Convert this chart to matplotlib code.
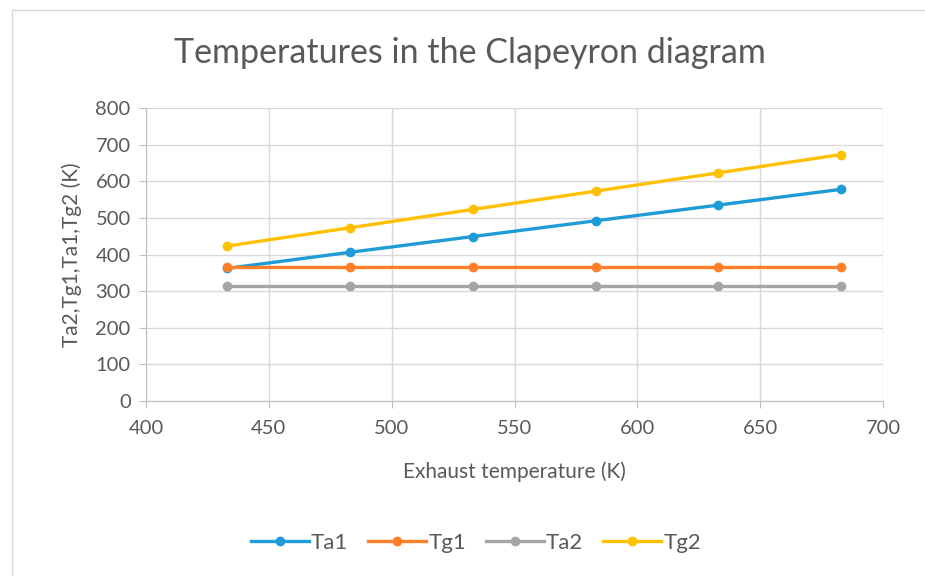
import matplotlib.pyplot as plt
from matplotlib.patches import Rectangle

# data
exhaust_temp = [433, 483, 533, 583, 633, 683]
ta1 = [362, 406, 449, 492, 535, 578]
tg1 = [365, 365, 365, 365, 365, 365]
ta2 = [313, 313, 313, 313, 313, 313]
tg2 = [423, 473, 523, 573, 623, 673]

plt.rcParams['font.family'] = ['Lato', 'DejaVu Sans']
txt = '#595959'

fig = plt.figure(figsize=(9.25, 5.76), dpi=100)
ax = fig.add_axes([146 / 925, 1 - 401 / 576, (883 - 146) / 925, (401 - 108) / 576])

# outer chart border (only top and left visible in the crop)
fig.patches.append(Rectangle((12 / 925, -0.1), 1.2, 1.1 - 10 / 576, transform=fig.transFigure,
                             fill=False, edgecolor='#D9D9D9', linewidth=1))

series = [("Ta1", ta1, '#1F9BD7'), ("Tg1", tg1, '#FF7F27'),
          ("Ta2", ta2, '#A5A5A5'), ("Tg2", tg2, '#FFC000')]
for name, vals, col in series:
    ax.plot(exhaust_temp, vals, color=col, linewidth=2.4, marker='o', markersize=6, label=name)

ax.set_xlim(400, 700)
ax.set_ylim(0, 800)
ax.set_xticks(range(400, 701, 50))
ax.set_yticks(range(0, 801, 100))
ax.grid(True, color='#D9D9D9', linewidth=1)
ax.set_axisbelow(True)
for s in ['top', 'right']:
    ax.spines[s].set_visible(False)
for s in ['left', 'bottom']:
    ax.spines[s].set_color('#BFBFBF')
ax.tick_params(colors='#BFBFBF', labelcolor=txt, labelsize=14.5, length=5)
ax.tick_params(axis='x', pad=9)
ax.tick_params(axis='y', pad=6)

ax.set_xlabel("Exhaust temperature (K)", fontsize=15, color=txt, labelpad=17)
ax.set_ylabel("Ta2,Tg1,Ta1,Tg2 (K)", fontsize=15, color=txt, labelpad=10)
fig.text(470 / 925, 1 - 53 / 576, "Temperatures in the Clapeyron diagram",
         ha='center', va='center', fontsize=24.5, color=txt)

fig.legend(loc='center', bbox_to_anchor=(476 / 925, 1 - 543 / 576), ncol=4, frameon=False,
           fontsize=16, labelcolor=txt, handlelength=2.6, columnspacing=0.9, handletextpad=0.1)

plt.savefig('out.png', dpi=100)
